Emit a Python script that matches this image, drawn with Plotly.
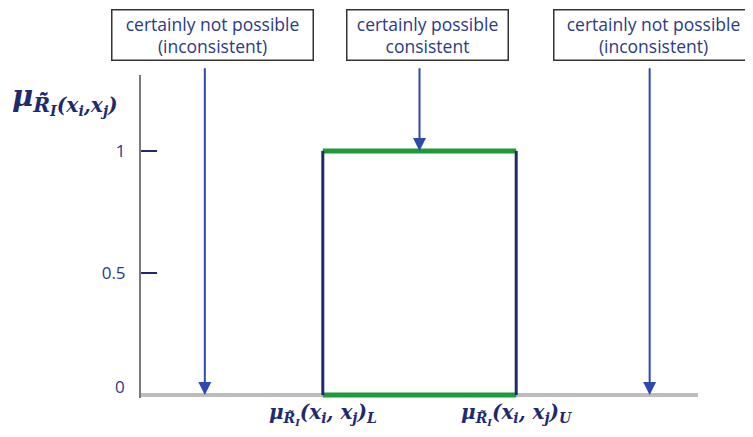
import plotly.graph_objects as go

# interval relation: lower / upper bound of the membership on the x axis
bound_names = ["L", "U"]
bound_x = [1, 2]
membership_top = 1
membership_bottom = 0

y_tick_vals = [0.5, 1]
y_tick_text = ["0.5", "1"]

# the three region labels and where their arrows point
box_labels = [
    "certainly not possible<br>(inconsistent)",
    "certainly possible<br>consistent",
    "certainly not possible<br>(inconsistent)",
]
box_x = [0.43, 1.54, 2.71]
arrow_x = [0.39, 1.5, 2.69]
arrow_tip_y = [0, 1, 0]

NAVY = "#1f2a6e"
TEXT = "#2b3a85"
ARROW = "#2e49ad"
GREEN = "#1f9a3b"

fig = go.Figure()

# green top and bottom of the interval
for yv in [membership_top, membership_bottom]:
    fig.add_trace(go.Scatter(x=bound_x, y=[yv, yv], mode="lines",
                             line=dict(color=GREEN, width=5),
                             hoverinfo="skip", showlegend=False))
# navy sides
for xv in bound_x:
    fig.add_trace(go.Scatter(x=[xv, xv], y=[membership_bottom, membership_top], mode="lines",
                             line=dict(color=NAVY, width=3),
                             hoverinfo="skip", showlegend=False))

# boxes
box_w = [198, 158, 196]
for lab, bx, w in zip(box_labels, box_x, box_w):
    fig.add_annotation(x=bx, y=1.124, xref="x", yref="paper", text=lab,
                       showarrow=False, width=w,
                       font=dict(family="Open Sans", size=17.5, color=TEXT),
                       bgcolor="white", bordercolor="#333333", borderwidth=1.5, borderpad=1,
                       xanchor="center", yanchor="middle")

# arrows from the boxes
for ax_, ty in zip(arrow_x, arrow_tip_y):
    fig.add_annotation(x=ax_, y=ty, ax=ax_, ay=1.345, xref="x", yref="y",
                       axref="x", ayref="y", text="", showarrow=True,
                       arrowhead=2, arrowsize=1.3, arrowwidth=2, arrowcolor=ARROW,
                       standoff=0)

# y title
fig.add_annotation(
    x=-0.235, y=0.925, xref="paper", yref="paper", xanchor="left", yanchor="middle",
    text="<b><i>μ</i></b><sub><b><i>R\u0303\u0303<sub>I</sub>(x<sub>i</sub>,x<sub>j</sub>)</i></b></sub>",
    showarrow=False, font=dict(family="DejaVu Serif", size=29, color=NAVY))

# zero label sits just above the baseline
fig.add_annotation(x=0, y=0, xref="paper", yref="y", text="0", showarrow=False,
                   xanchor="right", yanchor="middle", xshift=-14, yshift=9,
                   font=dict(family="Open Sans", size=17, color=TEXT))

x_tick_text = ["<b><i>μ<sub>R\u0303<sub>I</sub></sub>(x<sub>i</sub>, x<sub>j</sub>)<sub>%s</sub></i></b>" % n
               for n in bound_names]

fig.update_layout(
    width=753, height=437,
    margin=dict(l=133, r=63, t=67, b=47),
    plot_bgcolor="white", paper_bgcolor="white",
    xaxis=dict(range=[0.06, 2.94], showgrid=False, zeroline=False, showline=False,
               tickvals=bound_x, ticktext=x_tick_text, ticks="",
               tickfont=dict(family="DejaVu Serif", size=20, color=NAVY)),
    yaxis=dict(range=[-0.012, 1.311], showgrid=False,
               zeroline=True, zerolinecolor="#bdbdbd", zerolinewidth=4,
               showline=True, linecolor="#7a7a7a", linewidth=2,
               tickvals=y_tick_vals, ticktext=y_tick_text,
               ticks="inside", ticklen=16, tickwidth=2, tickcolor=NAVY,
               ticklabelstandoff=10,
               tickfont=dict(family="Open Sans", size=17, color=TEXT)),
)

fig.write_html("out.html")
